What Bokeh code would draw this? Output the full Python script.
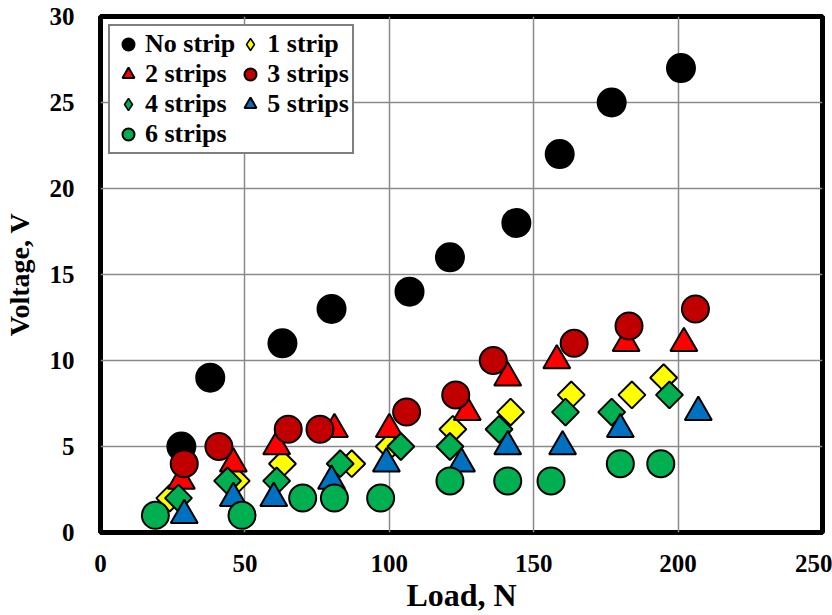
import math
from bokeh.plotting import figure
from bokeh.models import Range1d, FixedTicker, Legend, LegendItem
from bokeh.embed import file_html
from bokeh.resources import INLINE

# Data (Load in N, Voltage in V)
x_no = [28, 38, 63, 80, 107, 121, 144, 159, 177, 201]
y_no = [5, 9, 11, 13, 14, 16, 18, 22, 25, 27]

x_1 = [24, 47, 63, 87, 100, 122, 142, 163, 184, 195]
y_1 = [2, 3, 4, 4, 5, 6, 7, 8, 8, 9]

x_2 = [28, 46, 61, 81, 100, 127, 141, 158, 182, 202]
y_2 = [3, 4, 5, 6, 6, 7, 9, 10, 11, 11]

x_3 = [29, 41, 65, 76, 106, 123, 136, 164, 183, 206]
y_3 = [4, 5, 6, 6, 7, 8, 10, 11, 12, 13]

x_4 = [27, 44, 61, 83, 104, 121, 138, 161, 177, 197]
y_4 = [2, 3, 3, 4, 5, 5, 6, 7, 7, 8]

x_5 = [29, 46, 60, 80, 99, 125, 141, 160, 180, 207]
y_5 = [1, 2, 2, 3, 4, 4, 5, 5, 6, 7]

x_6 = [19, 49, 70, 81, 97, 121, 141, 156, 180, 194]
y_6 = [1, 1, 2, 2, 2, 3, 3, 3, 4, 4]

labels = ["No strip", "1 strip", "2 strips", "3 strips", "4 strips", "5 strips", "6 strips"]
x_ticks = [0, 50, 100, 150, 200, 250]
y_ticks = [0, 5, 10, 15, 20, 25, 30]

FONT = "Liberation Serif"

p = figure(width=832, height=615, output_backend="svg", toolbar_location=None,
           x_range=Range1d(0, 250), y_range=Range1d(0, 30),
           min_border_left=100, min_border_right=10, min_border_top=16, min_border_bottom=82)

p.outline_line_color = "black"
p.outline_line_width = 5
p.background_fill_color = "white"
p.border_fill_color = "white"

for ax in (p.xaxis, p.yaxis):
    ax.axis_line_color = None
    ax.major_tick_line_color = None
    ax.minor_tick_line_color = None
    ax.major_label_text_font = FONT
    ax.major_label_text_font_style = "bold"
    ax.major_label_text_font_size = "25px"
    ax.major_label_text_color = "black"
    ax.axis_label_text_font = FONT
    ax.axis_label_text_font_style = "bold"
    ax.axis_label_text_color = "black"

p.xaxis.axis_label_text_font_size = "32px"
p.yaxis.axis_label_text_font_size = "28px"
p.xaxis.ticker = FixedTicker(ticks=x_ticks)
p.yaxis.ticker = FixedTicker(ticks=y_ticks)
p.xaxis.axis_label = "Load, N"
p.yaxis.axis_label = "Voltage, V"
p.xaxis.major_label_standoff = 16
p.yaxis.major_label_standoff = 20
p.xaxis.axis_label_standoff = 2
p.yaxis.axis_label_standoff = 12

p.grid.grid_line_color = "#8a8a8a"
p.grid.grid_line_width = 1.5

lw = 2
YEL, RED, DRED, GRN, BLU = "#FFFF00", "#FF0000", "#C00000", "#00B050", "#0070C0"
r0 = p.scatter(x_no, y_no, marker="circle", size=28, fill_color="black", line_color="black", line_width=lw)
r1 = p.scatter(x_1, y_1, marker="square", angle=math.pi / 4, size=19, fill_color=YEL, line_color="black", line_width=lw)
r2 = p.scatter(x_2, y_2, marker="triangle", size=27, fill_color=RED, line_color="black", line_width=lw)
r3 = p.scatter(x_3, y_3, marker="circle", size=27, fill_color=DRED, line_color="black", line_width=lw)
r4 = p.scatter(x_4, y_4, marker="square", angle=math.pi / 4, size=19, fill_color=GRN, line_color="black", line_width=lw)
r5 = p.scatter(x_5, y_5, marker="triangle", size=27, fill_color=BLU, line_color="black", line_width=lw)
r6 = p.scatter(x_6, y_6, marker="circle", size=27, fill_color=GRN, line_color="black", line_width=lw)

# legend proxies for the rotated-square series (legend ignores angle); NaN point draws nothing on the plot
d1 = p.scatter([math.nan], [math.nan], marker="diamond", size=20, fill_color=YEL, line_color="black", line_width=1.5)
d4 = p.scatter([math.nan], [math.nan], marker="diamond", size=20, fill_color=GRN, line_color="black", line_width=1.5)

rs = [r0, d1, r2, r3, d4, r5, r6]
items = [LegendItem(label=l, renderers=[r]) for l, r in zip(labels, rs)]
# legend fills columns first; reorder so that it reads row by row
order = [0, 2, 4, 6, 1, 3, 5]
legend = Legend(items=[items[i] for i in order], location="top_left", ncols=2)
legend.label_text_font = FONT
legend.label_text_font_style = "bold"
legend.label_text_font_size = "26px"
legend.label_text_color = "black"
legend.border_line_color = "black"
legend.border_line_width = 2
legend.background_fill_alpha = 1
legend.glyph_width = 30
legend.glyph_height = 30
legend.label_height = 29
legend.label_standoff = 2
legend.spacing = 0
legend.padding = 3
legend.margin = 8
p.add_layout(legend)

open("out.html", "w").write(file_html(p, INLINE))
